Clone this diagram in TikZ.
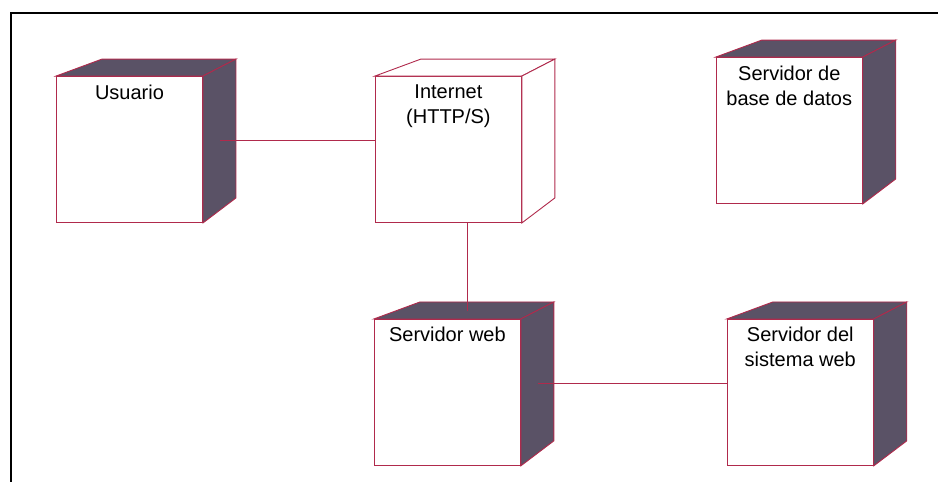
\documentclass[tikz,border=0pt]{standalone}
\usepackage{fontspec}
\setmainfont{Liberation Sans}
\usepackage{tikz}
\usetikzlibrary{calc,positioning}
\definecolor{edgered}{HTML}{B02A4C}
\definecolor{shadenode}{HTML}{5A5266}
\tikzset{
  faceline/.style = {draw=edgered, line width=0.9pt},   % <--- outline of the boxes
  devnode/.style  = {faceline, fill=white, rectangle, minimum width=146pt,
                     minimum height=146pt, inner sep=0pt},
  lbl/.style      = {anchor=north, align=center, yshift=-5pt,
                     font=\fontsize{20}{25}\selectfont},
  conn/.style     = {draw=edgered, line width=0.9pt},
}
% top and side face of a node, drawn behind its front face
\newcommand{\deploybox}[2]{%
  \filldraw[faceline,fill=#2] (#1.north west) -- ++(46,-17) -- ($(#1.north east)+(33,-17)$) -- (#1.north east) -- cycle;
  \filldraw[faceline,fill=#2] (#1.north east) -- ++(33,-17) -- ($(#1.south east)+(33,-25)$) -- (#1.south east) -- cycle;
  \coordinate (#1side) at ($(#1.east)+(17,-9)$);
  \coordinate (#1top) at ($(#1.north)+(20,-8)$);}

\begin{document}
\begin{tikzpicture}[x=1pt,y=-1pt]
 \useasboundingbox (0,0) rectangle (938,482);
 \draw[line width=1.6pt] (938,13) -- (11,13) -- (11,482);
 \node[devnode, label={[lbl]north:Usuario}] (usr) at (129.5,149.5) {};
 \node[devnode, right=172pt of usr, label={[lbl]north:Internet\\(HTTP/S)}] (inet) {};
 \node[devnode, right=194pt of inet, yshift=19pt, label={[lbl]north:Servidor de\\base de datos}] (bd) {};
 \node[devnode, below=96pt of inet, xshift=-1pt, label={[lbl]north:Servidor web}] (web) {};
 \node[devnode, right=206pt of web, label={[lbl]north:Servidor del\\sistema web}] (sis) {};
 \deploybox{usr}{shadenode}
 \deploybox{inet}{white}
 \deploybox{bd}{shadenode}
 \deploybox{web}{shadenode}
 \deploybox{sis}{shadenode}
 %\draw[conn] (usr.east) -- (inet.west);
 \draw[conn] (usrside) -- (usrside -| inet.west);
 \draw[conn] (webtop) -- (webtop |- inet.south);
 \draw[conn] (webside) -- (webside -| sis.west);
\end{tikzpicture}
\end{document}
